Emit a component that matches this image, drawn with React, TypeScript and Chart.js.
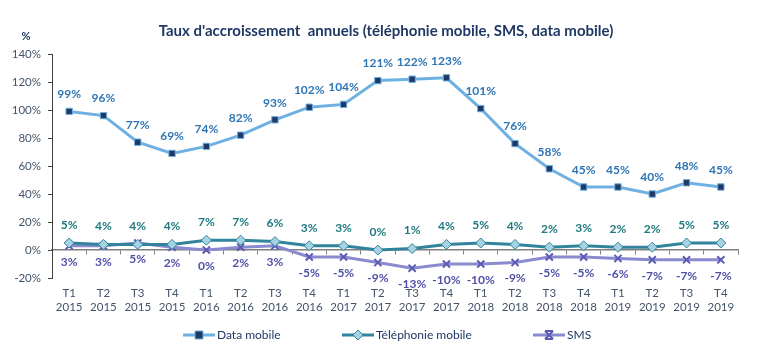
import React, { useEffect, useRef } from "react";
import { Chart, registerables } from "chart.js";

Chart.register(...registerables);

const quarters = ["T1","T2","T3","T4","T1","T2","T3","T4","T1","T2","T3","T4","T1","T2","T3","T4","T1","T2","T3","T4"];
const years = ["2015","2015","2015","2015","2016","2016","2016","2016","2017","2017","2017","2017","2018","2018","2018","2018","2019","2019","2019","2019"];
const dataMobile = [99,96,77,69,74,82,93,102,104,121,122,123,101,76,58,45,45,40,48,45];
const telephonie = [5,4,4,4,7,7,6,3,3,0,1,4,5,4,2,3,2,2,5,5];
const sms = [3,3,5,2,0,2,3,-5,-5,-9,-13,-10,-10,-9,-5,-5,-6,-7,-7,-7];
const yTicks = [-20,0,20,40,60,80,100,120,140];

const TITLE = "Taux d'accroissement  annuels (téléphonie mobile, SMS, data mobile)";
const FONT = "Lato, 'Open Sans', sans-serif";

const C_DATA_LINE = "#6EB0E2";
const C_DATA_PT = "#1F3864";
const C_DATA_LBL = "#2E75B6";
const C_TEL_LINE = "#31849B";
const C_TEL_PT = "#A6D3E3";
const C_TEL_LBL = "#1F7A80";
const C_SMS_LINE = "#8A8AD0";
const C_SMS_PT = "#5B5BB3";
const C_SMS_LBL = "#5050A8";
const C_AXIS_TXT = "#44546A";

function drawPoint(ctx: CanvasRenderingContext2D, style: string, x: number, y: number) {
  const r = 4;
  ctx.beginPath();
  if (style === "rect") {
    ctx.rect(x - r, y - r, 2 * r, 2 * r);
    ctx.fill();
    ctx.stroke();
  } else if (style === "rectRot") {
    ctx.moveTo(x, y - r - 1);
    ctx.lineTo(x + r + 1, y);
    ctx.lineTo(x, y + r + 1);
    ctx.lineTo(x - r - 1, y);
    ctx.closePath();
    ctx.fill();
    ctx.stroke();
  } else {
    ctx.moveTo(x - r, y - r);
    ctx.lineTo(x + r, y + r);
    ctx.moveTo(x + r, y - r);
    ctx.lineTo(x - r, y + r);
    ctx.moveTo(x - r, y - r);
    ctx.lineTo(x + r, y - r);
    ctx.moveTo(x - r, y + r);
    ctx.lineTo(x + r, y + r);
    ctx.stroke();
  }
}

const labelsPlugin = {
  id: "customText",
  afterDatasetsDraw(chart: any) {
    const ctx = chart.ctx;
    ctx.save();
    const cfg = [
      { idx: 0, color: C_DATA_LBL, dy: -17 },
      { idx: 1, color: C_TEL_LBL, dy: -18 },
      { idx: 2, color: C_SMS_LBL, dy: 16 },
    ];
    ctx.font = "bold 12px " + FONT;
    ctx.textAlign = "center";
    ctx.textBaseline = "middle";
    cfg.forEach((c) => {
      const meta = chart.getDatasetMeta(c.idx);
      const vals = chart.data.datasets[c.idx].data;
      meta.data.forEach((pt: any, i: number) => {
        ctx.fillStyle = c.color;
        ctx.fillText(vals[i] + "%", pt.x, pt.y + c.dy);
      });
    });
    ctx.font = "bold 15px " + FONT;
    ctx.fillStyle = "#1F3864";
    ctx.fillText(TITLE, 386, 31);
    ctx.font = "bold 11px " + FONT;
    ctx.fillText("%", 26, 36);
    const legend = [
      { x: 183, text: "Data mobile", line: C_DATA_LINE, style: "rect", fill: C_DATA_PT, border: C_DATA_LINE },
      { x: 342, text: "Téléphonie mobile", line: C_TEL_LINE, style: "rectRot", fill: C_TEL_PT, border: C_TEL_LINE },
      { x: 533, text: "SMS", line: C_SMS_LINE, style: "crossRot", fill: C_SMS_PT, border: C_SMS_PT },
    ];
    const ly = 335;
    legend.forEach((l) => {
      ctx.strokeStyle = l.line;
      ctx.lineWidth = 3;
      ctx.beginPath();
      ctx.moveTo(l.x, ly);
      ctx.lineTo(l.x + 32, ly);
      ctx.stroke();
      ctx.fillStyle = l.fill;
      ctx.strokeStyle = l.border;
      ctx.lineWidth = l.style === "crossRot" ? 2 : 1;
      drawPoint(ctx, l.style, l.x + 16, ly);
      ctx.fillStyle = "#1F3864";
      ctx.font = "12px " + FONT;
      ctx.textAlign = "left";
      ctx.fillText(l.text, l.x + 34, ly);
    });
    ctx.restore();
  },
};

export default function App() {
  const ref = useRef<HTMLCanvasElement>(null);
  useEffect(() => {
    document.body.style.margin = "0";
    const labels = quarters.map((q, i) => [q, years[i]]);
    const chart = new Chart(ref.current as HTMLCanvasElement, {
      type: "line",
      data: {
        labels,
        datasets: [
          {
            label: "Data mobile",
            data: dataMobile,
            borderColor: C_DATA_LINE,
            borderWidth: 3,
            pointStyle: "rect",
            pointRadius: 4.5,
            pointBackgroundColor: C_DATA_PT,
            pointBorderColor: C_DATA_LINE,
            pointBorderWidth: 1,
            tension: 0,
          },
          {
            label: "Téléphonie mobile",
            data: telephonie,
            borderColor: C_TEL_LINE,
            borderWidth: 3,
            pointStyle: "rectRot",
            pointRadius: 5,
            pointBackgroundColor: C_TEL_PT,
            pointBorderColor: C_TEL_LINE,
            pointBorderWidth: 1,
            tension: 0,
          },
          {
            label: "SMS",
            data: sms,
            borderColor: C_SMS_LINE,
            borderWidth: 3,
            pointStyle: "crossRot",
            pointRadius: 5,
            pointBackgroundColor: C_SMS_PT,
            pointBorderColor: C_SMS_PT,
            pointBorderWidth: 2,
            tension: 0,
          },
        ],
      },
      options: {
        animation: false,
        responsive: true,
        maintainAspectRatio: false,
        layout: { padding: { top: 54, left: 0, right: 38, bottom: 35 } },
        plugins: {
          legend: { display: false },
          title: { display: false },
          tooltip: { enabled: false },
        },
        scales: {
          x: {
            type: "category",
            offset: true,
            position: "bottom",
            grid: { display: false },
            border: { display: false },
            ticks: {
              color: C_AXIS_TXT,
              font: { family: FONT, size: 11.5, lineHeight: 1.25 },
              padding: 0,
              maxRotation: 0,
              autoSkip: false,
            },
            afterFit: (s: any) => { s.height = 40; },
          },
          x2: {
            type: "category",
            axis: "x",
            offset: true,
            position: { y: 0 },
            labels,
            grid: { offset: true, drawOnChartArea: false, drawTicks: true, tickLength: 4, color: "#7F7F7F" },
            border: { display: true, color: "#7F7F7F", width: 1.5 },
            ticks: { display: false },
          } as any,
          y: {
            min: -20,
            max: 140,
            afterBuildTicks: (s: any) => { s.ticks = yTicks.map((v) => ({ value: v })); },
            grid: { drawOnChartArea: false, drawTicks: true, tickLength: 4, color: "#404040" },
            border: { display: true, color: "#404040", width: 1 },
            ticks: {
              color: C_AXIS_TXT,
              font: { family: FONT, size: 11.5 },
              padding: 7,
              callback: (v: any) => v + "%",
            },
            afterFit: (s: any) => { s.width = 52; },
          },
        },
      },
      plugins: [labelsPlugin],
    } as any);
    return () => chart.destroy();
  }, []);
  return (
    <div style={{ width: 776, height: 353, position: "relative" }}>
      <canvas ref={ref} />
    </div>
  );
}
